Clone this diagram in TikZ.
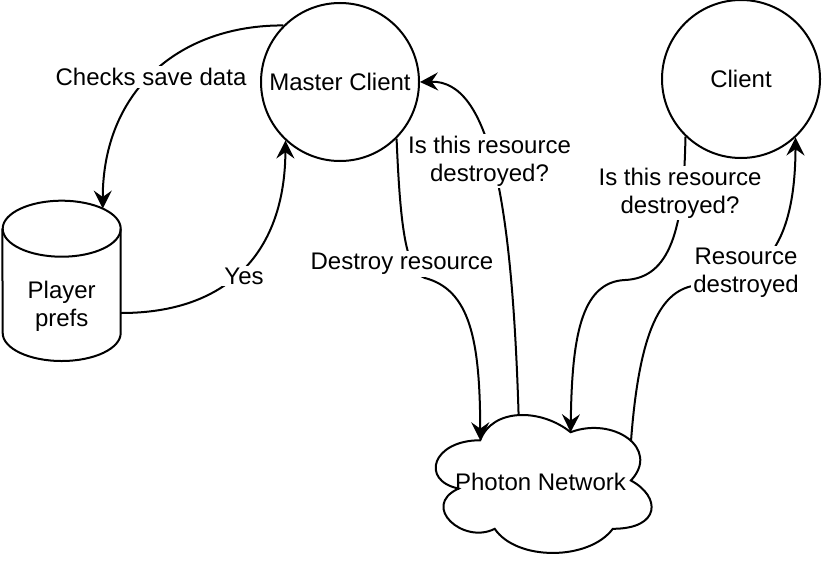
\documentclass[tikz,border=0pt]{standalone}
\usepackage{fontspec}
\setmainfont{Liberation Sans}
\usetikzlibrary{arrows.meta}
\begin{document}
\begin{tikzpicture}[x=0.5pt,y=-0.5pt,
  every node/.style={font=\fontsize{12}{14}\selectfont},
  shapeline/.style={line width=1pt},
  roundnode/.style={circle,draw,line width=1pt,minimum size=79pt,inner sep=0pt},
  conn/.style={line width=1pt,-{Stealth[length=9pt,width=9pt,inset=3.2pt]}},
  lbl/.style={fill=white,inner sep=1pt,align=center},
]
\useasboundingbox (0,0) rectangle (822,562);

% nodes
\node[roundnode] (mc) at (340,82) {Master Client};
\node[roundnode] (cl) at (741,79) {Client};

% Player prefs cylinder
\node[minimum width=59pt,minimum height=80pt,inner sep=0pt] (pp) at (61.7,281) {};
\draw[shapeline] (61.7,228.7) ellipse [x radius=29.5pt,y radius=14pt];
\draw[shapeline] (pp.north west |- 0,228.7) -- (2.7,333)
  arc[start angle=180,end angle=360,x radius=29.5pt,y radius=14pt] -- (120.7,228.7);
\node[align=center] (pptext) at (61.7,306) {Player\\prefs};

% Photon Network cloud
\draw[shapeline] (480.25,440.25)
  .. controls (432.05,440.25) and (420,480.5) .. (458.56,488.55)
  .. controls (420,506.26) and (463.38,544.9) .. (494.71,528.8)
  .. controls (516.4,561) and (588.7,561) .. (612.8,528.8)
  .. controls (661,528.8) and (661,496.6) .. (630.875,480.5)
  .. controls (661,448.3) and (612.8,416.1) .. (570.625,432.2)
  .. controls (540.5,408.05) and (492.3,408.05) .. cycle;
\node (pn) at (540.5,482) {Photon Network};
\coordinate (pnA) at (480.25,440.25);
\coordinate (pnB) at (518.6,415.1);
\coordinate (pnC) at (570.6,432.2);
\coordinate (pnD) at (631,441);

% connectors
\draw[conn] (mc.135) .. controls (180,25) and (103,90) .. ([xshift=20.5pt,yshift=-4pt]pp.north);
\draw[conn] ([yshift=-16pt]pp.east) .. controls (230,313) and (285,250) .. (mc.-133);
\draw[conn] (mc.-45) .. controls (400,220) and (405,272) .. (425,278)
  .. controls (470,290) and (480,340) .. (pnA);
\draw[conn] (pnB) .. controls (512,200) and (490,80) .. (mc.east);
\draw[conn] (cl.-134) .. controls (684,230) and (670,278) .. (625,280)
  .. controls (580,282) and (572,340) .. (pnC);
\draw[conn] (pnD) .. controls (640,320) and (665,287) .. (700,285)
  .. controls (760,283) and (795,250) .. (cl.-47);

% labels
\node[lbl] (l1) at (151,77) {Checks save data};
\node[lbl] (l2) at (244,276) {Yes};
\node[lbl] (l3) at (402,264) {Destroy resource};
\node[lbl] (l4) at (489.5,161) {Is this resource\\destroyed?};
\node[lbl] (l5) at (680,193) {Is this resource\\destroyed?};
\node[lbl] (l6) at (746,273) {Resource\\destroyed};
\end{tikzpicture}
\end{document}
